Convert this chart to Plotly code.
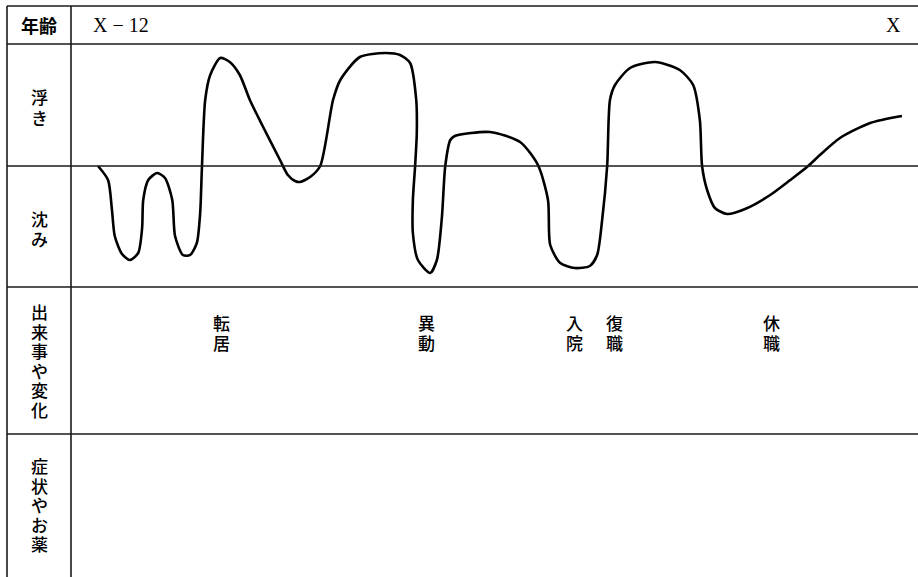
import plotly.graph_objects as go

W, H = 918, 577

# ---- data ----
# time in months from age X-12 (0) to age X (144); mood: + = elevated (浮き), - = depressed (沈み)
months = [0, 1.8, 2.5, 3.0, 4.3, 5.7, 7.2, 7.9, 8.1, 9.0, 10.6, 12.0, 13.3, 13.8, 15.2, 16.5,
          17.7, 18.3, 18.6, 19.2, 20.1, 21.9, 23.6, 25.4, 27.2, 29.4, 32.6, 34.0, 35.3, 36.2,
          38.0, 39.8, 42.1, 43.4, 46.9, 51.4, 54.1, 55.9, 57.0, 57.1, 56.8, 56.4, 56.4, 57.3,
          59.5, 60.7, 61.6, 62.2, 63.1, 63.9, 70.2, 75.6, 78.8, 80.6, 81.0, 82.8, 85.4, 88.1,
          89.4, 90.3, 91.2, 91.7, 92.6, 95.3, 99.8, 104.2, 106.6, 107.8, 108.2, 109.1, 110.5,
          112.7, 115.9, 120.4, 124.0, 127.2, 129.3, 132.9, 138.3, 144.0]
mood = [0, -1.4, -4.4, -7.0, -8.8, -9.4, -8.7, -6.2, -3.4, -1.4, -0.7, -1.2, -3.4, -7.0, -8.9, -8.9,
        -7.7, -4.7, -0.4, 6.6, 9.1, 10.8, 10.4, 9.1, 6.6, 4.1, 0.6, -0.9, -1.5, -1.6,
        -1.1, 0, 6.6, 8.6, 10.9, 11.3, 11.1, 10.3, 6.6, 3.3, 0, -3.4, -6.7, -9.4,
        -10.7, -9.4, -5.1, 0, 2.6, 3.0, 3.4, 2.4, 0.1, -3.4, -7.9, -9.7, -10.2, -10.0,
        -8.9, -5.4, 0, 6.6, 8.1, 9.8, 10.4, 9.6, 8.1, 4.6, 0, -2.4, -4.2,
        -4.8, -4.3, -2.9, -1.4, 0, 1.1, 2.8, 4.3, 5.0]

age_labels = ["X − 12", "X"]
header_label = "年齢"
row_labels = ["浮き", "沈み", "出来事や変化", "症状やお薬"]
events = ["転居", "異動", "入院", "復職", "休職"]
event_months = [22.2, 58.8, 85.3, 92.6, 120.7]

# ---- layout helpers ----
PX_PER_MONTH = 5.583
X0_PX = 98          # pixel of month 0
def py(p):
    return 1 - p / H

LINE = "#1a1a1a"
JP = "Noto Sans CJK JP"

def vertical(text, glyph_px):
    # one character per line; line spacing comes from the annotation font size (1.3 em)
    return "<br>".join(f"<span style='font-size:{glyph_px}px'>{c}</span>" for c in text)

fig = go.Figure()
fig.add_trace(go.Scatter(
    x=months, y=mood, mode="lines",
    line=dict(color="black", width=2.6, shape="spline", smoothing=0.7),
    hoverinfo="skip", showlegend=False))

fig.update_layout(
    width=W, height=H, margin=dict(l=0, r=0, t=0, b=0),
    paper_bgcolor="white", plot_bgcolor="rgba(0,0,0,0)",
    xaxis=dict(domain=[71 / W, 1], range=[(71 - X0_PX) / PX_PER_MONTH, (918 - X0_PX) / PX_PER_MONTH],
               visible=False, fixedrange=True),
    yaxis=dict(domain=[py(287), py(44)], range=[-12.1, 12.2], visible=False, fixedrange=True),
)

shapes = []
for yp in [6, 44, 287, 434]:
    shapes.append(dict(type="line", xref="paper", yref="paper", x0=7 / W, x1=1, y0=py(yp), y1=py(yp),
                       line=dict(color=LINE, width=1.6)))
# baseline between 浮き and 沈み (mood 0)
shapes.append(dict(type="line", xref="paper", yref="y", x0=7 / W, x1=1, y0=0, y1=0,
                   line=dict(color=LINE, width=1.6)))
for xp in [7, 71]:
    shapes.append(dict(type="line", xref="paper", yref="paper", x0=xp / W, x1=xp / W, y0=0, y1=py(6),
                       line=dict(color=LINE, width=1.6)))
fig.update_layout(shapes=shapes)

ann = []
# header
ann.append(dict(text=header_label, x=39 / W, y=py(25), xref="paper", yref="paper", showarrow=False,
                xanchor="center", yanchor="middle",
                font=dict(family=JP, size=18, color="black", weight=700)))
ann.append(dict(text=age_labels[0], x=91 / W, y=py(25), xref="paper", yref="paper", showarrow=False,
                xanchor="left", yanchor="middle",
                font=dict(family="Liberation Serif", size=20, color="black")))
ann.append(dict(text=age_labels[1], x=903 / W, y=py(25), xref="paper", yref="paper", showarrow=False,
                xanchor="right", yanchor="middle",
                font=dict(family="Liberation Serif", size=20, color="black")))

# vertical row labels
row_centers = [107, 228, 360.5, 504]
row_font = [16, 15.5, 15, 15]
for lab, c, fs in zip(row_labels, row_centers, row_font):
    ann.append(dict(text=vertical(lab, 17), x=39 / W, y=py(c), xref="paper", yref="paper", showarrow=False,
                    xanchor="center", yanchor="middle", align="center",
                    font=dict(family=JP, size=fs, color="black", weight=500)))

# event labels (vertical)
for ev, m in zip(events, event_months):
    ann.append(dict(text=vertical(ev, 17), x=m, y=py(332), xref="x", yref="paper", showarrow=False,
                    xanchor="center", yanchor="middle", align="center",
                    font=dict(family=JP, size=15.5, color="black", weight=500)))

fig.update_layout(annotations=ann)
fig.write_html("out.html", config={"displayModeBar": False},
               post_script="document.body.style.margin='0';document.body.style.overflow='hidden';")
